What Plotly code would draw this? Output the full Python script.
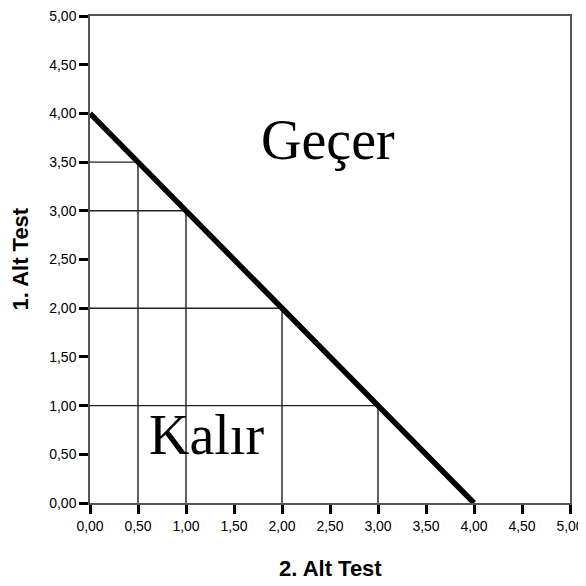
import plotly.graph_objects as go

# Data
tick_vals = [0, 0.5, 1.0, 1.5, 2.0, 2.5, 3.0, 3.5, 4.0, 4.5, 5.0]
tick_text = ["0,00", "0,50", "1,00", "1,50", "2,00", "2,50", "3,00", "3,50", "4,00", "4,50", "5,00"]
boundary_x = [0, 4]
boundary_y = [4, 0]
corner_x = [0.5, 1.0, 2.0, 3.0]
corner_y = [3.5, 3.0, 2.0, 1.0]
label_pass = "Geçer"
label_fail = "Kalır"
x_title = "2. Alt Test"
y_title = "1. Alt Test"

# Build L-shaped guide lines from corner points
gx, gy = [], []
for cx, cy in zip(corner_x, corner_y):
    gx += [0, cx, cx, None]
    gy += [cy, cy, 0, None]

fig = go.Figure()
fig.add_trace(go.Scatter(x=gx, y=gy, mode="lines",
                         line=dict(color="#222222", width=1.4),
                         hoverinfo="skip", showlegend=False, cliponaxis=False))
fig.add_trace(go.Scatter(x=boundary_x, y=boundary_y, mode="lines",
                         line=dict(color="black", width=5.5),
                         hoverinfo="skip", showlegend=False, cliponaxis=False))

axis_common = dict(
    range=[0, 5], tickvals=tick_vals, ticktext=tick_text,
    showgrid=False, zeroline=False, automargin=False,
    showline=True, linecolor="#555555", linewidth=1.5, mirror=True,
    ticks="outside", ticklen=9, tickwidth=3, tickcolor="black",
    tickfont=dict(family="Liberation Sans, Arial", size=14, color="black"),
    ticklabeloverflow="allow",
    fixedrange=True,
)

fig.update_xaxes(**axis_common)
fig.update_yaxes(**axis_common)

fig.add_annotation(x=2.48, y=3.73, xref="x", yref="y", text=label_pass,
                   showarrow=False, xanchor="center", yanchor="middle",
                   font=dict(family="Liberation Serif, Times New Roman", size=56, color="black"))
fig.add_annotation(x=1.21, y=0.70, xref="x", yref="y", text=label_fail,
                   showarrow=False, xanchor="center", yanchor="middle",
                   font=dict(family="Liberation Serif, Times New Roman", size=56, color="black"))

fig.add_annotation(x=0.5, y=0, xref="paper", yref="paper", text="<b>" + x_title + "</b>",
                   showarrow=False, xanchor="center", yanchor="middle", yshift=-65,
                   font=dict(family="Liberation Sans, Arial", size=22, color="black"))
fig.add_annotation(x=0, y=0.5, xref="paper", yref="paper", text="<b>" + y_title + "</b>",
                   showarrow=False, xanchor="center", yanchor="middle", xshift=-70,
                   textangle=-90,
                   font=dict(family="Liberation Sans, Arial", size=22, color="black"))

fig.update_layout(
    width=578, height=578,
    margin=dict(l=82, r=16, t=8, b=83, autoexpand=False),
    plot_bgcolor="white", paper_bgcolor="white",
    showlegend=False,
)

fig.write_html("out.html", config={"displayModeBar": False})
